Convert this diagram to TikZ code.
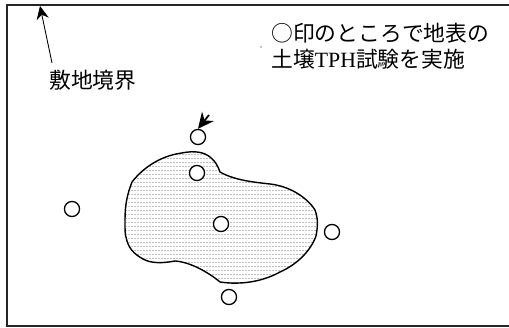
\documentclass[tikz,border=0pt]{standalone}
\usepackage{fontspec}
\setmainfont{Liberation Serif}
\newfontfamily\cjk{Noto Sans CJK JP}
\usetikzlibrary{arrows.meta}
\usetikzlibrary{patterns}
\pgfdeclarepatternformonly{sitedots}{\pgfqpoint{-0.1pt}{-0.1pt}}{\pgfqpoint{1.6pt}{2.17pt}}{\pgfqpoint{1.7pt}{2.27pt}}{%
\pgfpathrectangle{\pgfqpoint{0pt}{0pt}}{\pgfqpoint{1.13pt}{0.8pt}}\pgfusepath{fill}}
\tikzset{
  hole/.style={shape=circle,draw=black,fill=white,line width=0.75pt,inner sep=0pt,minimum size=8.6pt},
  note/.style={inner sep=0pt,anchor=west,font=\fontsize{12.4}{14}\selectfont\cjk},
}
\begin{document}
\begin{tikzpicture}[x=0.02cm,y=-0.02cm]
\useasboundingbox (0,0) rectangle (509,327);
% site boundary
\draw[line width=0.9pt,black!85] (509,5) -- (7,5) -- (7,326) -- (509,326);
% soil area
\draw[line width=0.8pt,pattern=sitedots,pattern color=black!25] (197,152) .. controls (190,151) and (182,153) .. (176,154)
  .. controls (158,158) and (143,168) .. (132,182)
  .. controls (127,195) and (125,205) .. (125,220)
  .. controls (125,230) and (125,235) .. (126,237)
  .. controls (128,248) and (134,254) .. (143,259)
  .. controls (152,264) and (164,263) .. (175,261)
  .. controls (190,262) and (208,272) .. (220,282)
  .. controls (240,285) and (262,282) .. (280,272)
  .. controls (298,264) and (311,250) .. (316,236)
  .. controls (318,226) and (318,218) .. (315,210)
  .. controls (306,196) and (288,186) .. (270,184)
  .. controls (252,182) and (234,180) .. (220,172)
  .. controls (216,160) and (208,153) .. (197,152) -- cycle;
% test points
\node[hole] (a) at (198,137) {};
\node[hole] (b) at (197,173) {};
\node[hole] (c) at (221,224) {};
\node[hole] (d) at (72,209) {};
\node[hole] (e) at (332,232) {};
\node[hole] (f) at (229,297) {};
% labels
\node[note] (border) at (49,80) {敷地境界};
\node[note] (note1) at (271,33) {○印のところで地表の};
\node[note] (note2) at (271,59) {土壌{\rmfamily TPH}試験を実施};
\coordinate (bordertip) at (40,6);
\coordinate (bordertail) at (52,63);
\coordinate (atail) at (209,115);
\draw[-{Stealth[length=7.5pt,width=7pt]},line width=0.5pt] (bordertail) -- (bordertip);
\draw[-{Stealth[length=9pt,width=8.5pt]},line width=1pt] (atail) -- (a.north);
\fill (261,47) circle (0.4pt);
\end{tikzpicture}
\end{document}
